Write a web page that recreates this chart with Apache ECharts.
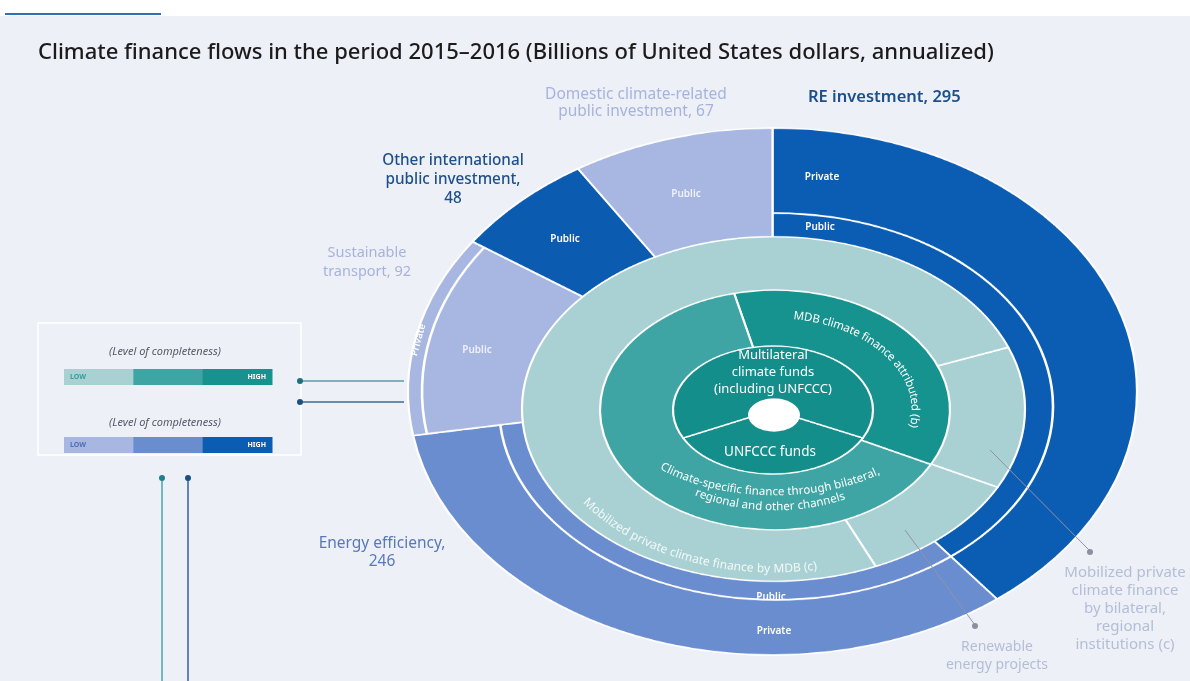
<!DOCTYPE html>
<html><head><meta charset="utf-8">
<script src="https://cdn.jsdelivr.net/npm/echarts@6/dist/echarts.min.js"></script>
<style>
html,body{margin:0;padding:0;width:1190px;height:681px;overflow:hidden;background:#ffffff;}
#wrap{position:relative;width:1190px;height:681px;overflow:hidden;}
#bg{position:absolute;left:0;top:16px;width:1190px;height:665px;background:#eef0f8;}
#topline{position:absolute;left:5px;top:13px;width:156px;height:2px;background:#2f6fb6;}
.layer{position:absolute;left:0;top:0;width:1190px;height:1200px;}
.overlay{position:absolute;left:0;top:0;width:1190px;height:681px;}
</style></head><body><div id="wrap"><div id="bg"></div><div id="topline"></div></div>
<script>
// ---------------- DATA ----------------
const outerCategories = ['RE investment', 'Energy efficiency', 'Sustainable transport',
  'Other international public investment', 'Domestic climate-related public investment'];
const outerValues = [295, 246, 92, 48, 67];
const outerBand = ['private-wide', 'private-wide', 'private-thin', 'public', 'public'];

// inner (teal) rings: relative shares
const mobilizedNames = ['Mobilized private climate finance by bilateral, regional institutions (c)',
  'Renewable energy projects', 'Mobilized private climate finance by MDB (c)'];
const mobilizedShares = [48, 39, 273];
const channelNames = ['MDB climate finance attributed (b)',
  'Climate-specific finance through bilateral, regional and other channels'];
const channelShares = [130.5, 229.5];
const fundNames = ['UNFCCC funds', 'Multilateral climate funds (including UNFCCC)'];
const fundShares = [128, 232];

const legendLevels = ['LOW', '', 'HIGH'];

// ---------------- STYLE ----------------
const outerColors = ['#0b5db4', '#6a8dd0', '#a8b7e1', '#0b5bb0', '#a8b7e1'];
const mobilizedColor = '#a9d1d4';
const channelColors = ['#17938f', '#3fa4a4'];
const fundColor = '#148e8a';
const tealLevels = ['#a9d1d4', '#3fa4a4', '#17938f'];
const blueLevels = ['#a8b7e1', '#6a8dd0', '#0b5db4'];
const TRANSPARENT = {color: 'rgba(0,0,0,0)', borderWidth: 0};
const FONT = '"Noto Sans", "Open Sans", sans-serif';

const wrap = document.getElementById('wrap');
function layer(k, oy, option) {
  const d = document.createElement('div');
  d.className = 'layer';
  d.style.transformOrigin = '0px ' + oy + 'px';
  d.style.transform = 'scaleY(' + k + ')';
  wrap.appendChild(d);
  const ch = echarts.init(d, null, {width: 1190, height: 1200});
  ch.setOption(Object.assign({animation: false}, option));
}
const pre = (oy, k, ys) => oy + (ys - oy) / k;

function pie(cx, cy, r0, r, startAngle, names, values, styleFn, z) {
  return {
    type: 'pie', silent: true, animation: false, center: [cx, cy], radius: [r0, r],
    startAngle: startAngle, clockwise: true, avoidLabelOverlap: false, z: z || 2,
    label: {show: false}, labelLine: {show: false}, emphasis: {disabled: true},
    data: names.map((n, i) => ({name: n, value: values[i], itemStyle: styleFn(i)}))
  };
}
const border = c => ({color: c, borderColor: '#ffffff', borderWidth: 2.2});

// Layer A : RE + EE outer sectors
layer(0.723, 391.5, {series: [
  pie(772.5, 391.5, 0, 364.5, 90, outerCategories, outerValues,
    i => outerBand[i] === 'private-wide' ? border(outerColors[i]) : TRANSPARENT)
]});
// Layer B : private/public split line for RE and EE
layer(0.698, 406.5, {graphic: [{type: 'ring', silent: true,
  shape: {cx: 776, cy: 406.5, r: 278.3, r0: 275.7}, style: {fill: '#ffffff'}}]});
// Layer A' : the other outer sectors + split of sustainable transport
layer(0.723, 391.5, {series: [
  pie(772.5, 391.5, 0, 364.5, 90, outerCategories, outerValues,
    i => outerBand[i] === 'private-wide' ? TRANSPARENT : border(outerColors[i]), 2),
  pie(772.5, 391.5, 349.2, 351.8, 90, outerCategories, outerValues,
    i => outerBand[i] === 'private-thin' ? {color: '#ffffff', borderWidth: 0} : TRANSPARENT, 3)
]});
// Layer C : mobilized ring + channel ring
layer(0.685, 409, {series: [
  pie(773.5, 409, 0, 251.5, 21, mobilizedNames, mobilizedShares, i => border(mobilizedColor), 2),
  pie(775, pre(409, 0.685, 410), 0, 175, 103.5, channelNames, channelShares, i => border(channelColors[i]), 3)
]});
// Layer D : funds ring + centre
layer(0.64, 410, {
  series: [pie(773, 410, 0, 100, -26, fundNames, fundShares, i => border(fundColor), 2)],
  graphic: [{type: 'circle', silent: true, z: 100, shape: {cx: 774, cy: pre(410, 0.64, 415), r: 26},
    style: {fill: '#ffffff'}}]
});

// ---------------- OVERLAY (texts, legend, pointers) ----------------
const mctx = document.createElement('canvas').getContext('2d');
function arcText(str, cx, cy, rx, ry, phiMidDeg, dir, size, color, weight) {
  const font = (weight || 'normal') + ' ' + size + 'px ' + FONT;
  mctx.font = font;
  const chars = Array.from(str);
  const widths = chars.map(ch => mctx.measureText(ch).width);
  const total = widths.reduce((a, b) => a + b, 0);
  const step = 0.0004;
  const speed = p => Math.hypot(rx * Math.sin(p), ry * Math.cos(p));
  let phi = phiMidDeg * Math.PI / 180, s = 0;
  while (s < total / 2) { s += speed(phi) * step; phi -= dir * step; }
  const out = [];
  let acc = 0, cur = 0;
  chars.forEach((ch, i) => {
    const target = acc + widths[i] / 2;
    while (cur < target) { cur += speed(phi) * step; phi += dir * step; }
    const x = cx + rx * Math.cos(phi), y = cy + ry * Math.sin(phi);
    const tx = dir * (-rx * Math.sin(phi)), ty = dir * (ry * Math.cos(phi));
    out.push({type: 'text', silent: true, x: x, y: y, rotation: Math.atan2(-ty, tx), z: 10,
      style: {text: ch, font: font, fill: color, align: 'center', verticalAlign: 'middle',
        textAlign: 'center', textVerticalAlign: 'middle'}});
    acc += widths[i];
  });
  return out;
}
function txt(str, x, y, size, color, opt) {
  opt = opt || {};
  const font = (opt.style || 'normal') + ' ' + (opt.weight || 'normal') + ' ' + size + 'px ' + FONT;
  return {type: 'text', silent: true, x: x, y: y, rotation: opt.rot || 0, z: 10,
    style: {text: str, font: font, fill: color, align: opt.align || 'center', textAlign: opt.align || 'center',
      verticalAlign: 'middle', textVerticalAlign: 'middle', lineHeight: opt.lh || size * 1.3}};
}
function line(x1, y1, x2, y2, color, w) {
  return {type: 'line', silent: true, z: 8, shape: {x1: x1, y1: y1, x2: x2, y2: y2},
    style: {stroke: color, lineWidth: w || 1.3}};
}
function dot(x, y, color, r) {
  return {type: 'circle', silent: true, z: 9, shape: {cx: x, cy: y, r: r || 3}, style: {fill: color}};
}

const g = [];
// title
g.push(txt('Climate finance flows in the period 2015\u20132016 (Billions of United States dollars, annualized)',
  38, 53, 22, '#1b1b1b', {weight: 500, align: 'left'}));
// outer labels
const pale = '#a6b3dc', dark = '#1c4f8c';
g.push(txt('Domestic climate-related\npublic investment, ' + outerValues[4], 636, 103, 15.5, pale, {lh: 17}));
g.push(txt('RE investment, ' + outerValues[0], 808, 97, 16.5, dark, {weight: 600, align: 'left'}));
g.push(txt('Other international\npublic investment,\n' + outerValues[3], 453, 180, 15.3, dark, {weight: 500, lh: 19}));
g.push(txt('Sustainable\ntransport, ' + outerValues[2], 367, 262, 14.5, pale, {lh: 19}));
g.push(txt('Energy efficiency,\n' + outerValues[1], 382, 553, 15.5, '#5878bb', {lh: 18}));
const grey = '#b3bed6';
g.push(txt('Mobilized private\nclimate finance\nby bilateral,\nregional\ninstitutions (c)', 1125, 609, 15, grey, {lh: 18}));
g.push(txt('Renewable\nenergy projects', 997, 656, 14, grey, {lh: 18}));
// labels inside outer ring
const w = '#ffffff';
g.push(txt('Private', 822, 177, 10, w, {weight: 600}));
g.push(txt('Public', 820, 227, 10, w, {weight: 600}));
g.push(txt('Public', 686, 194, 10, '#eef1fb', {weight: 600}));
g.push(txt('Public', 565, 239, 10, w, {weight: 600}));
g.push(txt('Public', 477, 350, 10, '#eef1fb', {weight: 600}));
g.push(txt('Private', 418.5, 340, 9.5, '#ffffff', {weight: 600, rot: 1.3}));
g.push(txt('Public', 771, 597, 10, w, {weight: 600}));
g.push(txt('Private', 774, 631, 10, w, {weight: 600}));
// inner labels
g.push(txt('Multilateral\nclimate funds\n(including UNFCCC)', 773, 372, 13, w, {lh: 17}));
g.push(txt('UNFCCC funds', 770, 452, 13.5, w));
g.push.apply(g, arcText('MDB climate finance attributed (b)', 775, 410, 140, 95, -41.5, 1, 11.5, w));
g.push.apply(g, arcText('Climate-specific finance through bilateral,', 775, 410, 155, 82, 92, -1, 11.5, w));
g.push.apply(g, arcText('regional and other channels', 775, 410, 150, 97, 92, -1, 11.5, w));
g.push.apply(g, arcText('Mobilized private climate finance by MDB (c)', 773.5, 409, 229, 160, 110.5, -1, 12, '#f3f8f8'));
// pointers
g.push(line(990, 450, 1090, 551, '#8e93a6', 1));
g.push(dot(1090, 552, '#8e8e9e', 3));
g.push(line(905, 530, 975, 625, '#8e93a6', 1));
g.push(dot(975, 626, '#8e8e9e', 3));
// legend box
g.push({type: 'rect', silent: true, z: 5, shape: {x: 38, y: 323, width: 263, height: 132},
  style: {fill: 'none', stroke: '#ffffff', lineWidth: 1.5}});
function legendBar(y, colors, lowColor) {
  const x0 = 64, wd = 208, h = 16, seg = wd / colors.length;
  colors.forEach((c, i) => {
    g.push({type: 'rect', silent: true, z: 6, shape: {x: x0 + i * seg, y: y, width: seg + 0.5, height: h},
      style: {fill: c}});
  });
  g.push(txt(legendLevels[0], x0 + 6, y + h / 2, 7, lowColor, {weight: 700, align: 'left'}));
  g.push(txt(legendLevels[2], x0 + wd - 6, y + h / 2, 7, '#ffffff', {weight: 700, align: 'right'}));
}
g.push(txt('(Level of completeness)', 165, 352, 11, '#555a66', {style: 'italic'}));
legendBar(369, tealLevels, '#3b9b9b');
g.push(txt('(Level of completeness)', 165, 423, 11, '#555a66', {style: 'italic'}));
legendBar(437, blueLevels, '#4b6fb8');
// connectors
g.push(line(300, 381, 404, 381, '#5f9aaa', 1.3));
g.push(dot(300, 381, '#1f6f80', 3));
g.push(line(300, 402, 404, 402, '#3e6a98', 1.3));
g.push(dot(300, 402, '#1d4f80', 3));
g.push(line(162, 478, 162, 681, '#4aa3b2', 1.5));
g.push(dot(162, 478, '#1f7f90', 3));
g.push(line(188, 478, 188, 681, '#2f62a0', 1.5));
g.push(dot(188, 478, '#1d4f80', 3));

const od = document.createElement('div');
od.className = 'overlay';
wrap.appendChild(od);
const overlay = echarts.init(od, null, {width: 1190, height: 681});
overlay.setOption({animation: false, graphic: g});
</script>
</body></html>
